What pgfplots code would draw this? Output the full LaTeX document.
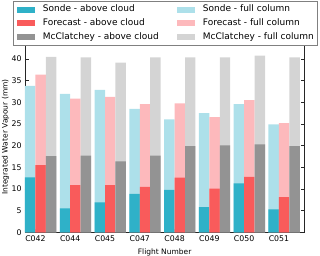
\documentclass[border=0pt]{standalone}
\usepackage{pgfplots}
\pgfplotsset{compat=1.18}
\usepackage{pgfplotstable}
\usepackage{fontspec}
\setmainfont{DejaVu Sans}
\definecolor{sa}{HTML}{2FB1C8}
\definecolor{sf}{HTML}{ADE0EA}
\definecolor{fa}{HTML}{F95B5B}
\definecolor{ff}{HTML}{FDB9BC}
\definecolor{ma}{HTML}{939393}
\definecolor{mf}{HTML}{D4D4D4}
\pgfplotstableread{
x sf sa ff fa mf ma
0 33.8 12.7 36.4 15.5 40.5 17.6
1 32.0 5.5 30.9 10.9 40.4 17.7
2 32.9 6.9 31.3 10.9 39.2 16.4
3 28.5 8.9 29.6 10.5 40.4 17.7
4 26.1 9.8 29.8 12.6 40.4 19.9
5 27.5 5.8 26.6 10.1 40.4 20.1
6 29.6 11.3 30.5 12.8 40.8 20.3
7 24.9 5.3 25.2 8.1 40.4 19.9
}\data
\begin{document}
\begin{tikzpicture}
\path[use as bounding box] (-25pt,-23.7pt) rectangle (295pt,232.3pt);
\begin{axis}[
  scale only axis, width=279.3pt, height=190.5pt,
  xmin=-0.45, xmax=7.58, ymin=0, ymax=44,
  xtick={-0.15,0.85,1.85,2.85,3.85,4.85,5.85,6.85},
  xticklabels={C042,C044,C045,C047,C048,C049,C050,C051},
  ytick={0,5,...,40},
  xtick pos=bottom,
  tick align=inside, major tick length=3.5pt,
  tick style={black!85, line width=0.6pt},
  axis line style={black!85, line width=0.8pt},
  /pgf/number format/assume math mode=true,
  ticklabel style={font=\fontsize{7.8}{9}\selectfont},
  label style={font=\fontsize{7.5}{9}\selectfont},
  xlabel={Flight Number}, ylabel={Integrated Water Vapour (mm)},
  ylabel style={at={(rel axis cs:-0.0623,0.5)}, anchor=base},
  legend columns=2, legend cell align=left,
  mylegimg/.style={legend image code/.code={\fill (0pt,-3pt) rectangle (18pt,3pt);}},
  legend style={
    at={(rel axis cs:0,1)}, anchor=north west, xshift=-11.7pt, yshift=40.8pt,
    draw=black!50, line width=0.8pt, fill=white,
    font=\fontsize{9}{10.8}\selectfont,
    inner xsep=3.5pt, inner ysep=4pt,
    row sep=5.2pt,
    nodes={inner sep=0pt, text height=6.6pt, text depth=1.9pt},
    /tikz/every odd column/.append style={column sep=7.7pt},
    /tikz/every even column/.append style={column sep=18.5pt},
  },
]
\addplot[ybar, bar width=0.3, bar shift=0pt, fill=sf, draw=none, forget plot] table[x expr=\thisrow{x}-0.3, y=sf]{\data};
\addplot[ybar, bar width=0.3, bar shift=0pt, fill=sa, draw=none, forget plot] table[x expr=\thisrow{x}-0.3, y=sa]{\data};
\addplot[ybar, bar width=0.3, bar shift=0pt, fill=ff, draw=none, forget plot] table[x expr=\thisrow{x}, y=ff]{\data};
\addplot[ybar, bar width=0.3, bar shift=0pt, fill=fa, draw=none, forget plot] table[x expr=\thisrow{x}, y=fa]{\data};
\addplot[ybar, bar width=0.3, bar shift=0pt, fill=mf, draw=none, forget plot] table[x expr=\thisrow{x}+0.3, y=mf]{\data};
\addplot[ybar, bar width=0.3, bar shift=0pt, fill=ma, draw=none, forget plot] table[x expr=\thisrow{x}+0.3, y=ma]{\data};
\addlegendimage{mylegimg, fill=sa, draw=none}
\addlegendentry{Sonde - above cloud}
\addlegendimage{mylegimg, fill=sf, draw=none}
\addlegendentry{Sonde - full column}
\addlegendimage{mylegimg, fill=fa, draw=none}
\addlegendentry{Forecast - above cloud}
\addlegendimage{mylegimg, fill=ff, draw=none}
\addlegendentry{Forecast - full column}
\addlegendimage{mylegimg, fill=ma, draw=none}
\addlegendentry{McClatchey - above cloud}
\addlegendimage{mylegimg, fill=mf, draw=none}
\addlegendentry{McClatchey - full column}
\end{axis}
\end{tikzpicture}
\end{document}
